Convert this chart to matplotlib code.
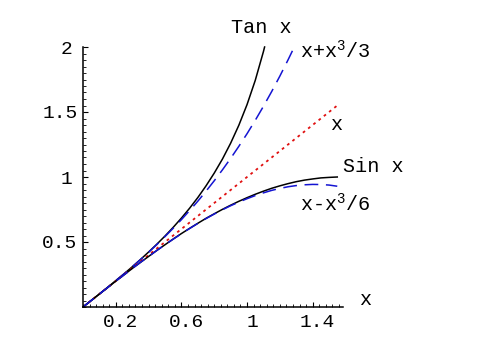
import matplotlib
matplotlib.use("Agg")
import matplotlib.pyplot as plt
import matplotlib.transforms as mtransforms
from matplotlib.ticker import MultipleLocator

# ---- data ----
xs = [0.0, 0.05, 0.1, 0.15, 0.2, 0.25, 0.3, 0.35, 0.4, 0.45, 0.5, 0.55, 0.6,
      0.65, 0.7, 0.75, 0.8, 0.85, 0.9, 0.95, 1.0, 1.05, 1.1, 1.15, 1.2, 1.25,
      1.3, 1.35, 1.4, 1.45, 1.5, 1.55]

tan_x = xs[:23] + [1.107]
tan_y = [0.0, 0.050, 0.100, 0.151, 0.203, 0.255, 0.309, 0.365, 0.423, 0.483,
         0.546, 0.613, 0.684, 0.760, 0.842, 0.932, 1.030, 1.138, 1.260, 1.398,
         1.557, 1.743, 1.965, 2.0]

tay3_x = xs[:26] + [1.288]
tay3_y = [0.0, 0.050, 0.100, 0.151, 0.203, 0.255, 0.309, 0.364, 0.421, 0.480,
          0.542, 0.606, 0.672, 0.742, 0.814, 0.891, 0.971, 1.055, 1.143, 1.236,
          1.333, 1.436, 1.544, 1.657, 1.776, 1.901, 2.0]

lin_x = [0.0, 1.55]
lin_y = [0.0, 1.55]

sin_y = [0.0, 0.050, 0.100, 0.149, 0.199, 0.247, 0.296, 0.343, 0.389, 0.435,
         0.479, 0.523, 0.565, 0.605, 0.644, 0.682, 0.717, 0.751, 0.783, 0.813,
         0.841, 0.867, 0.891, 0.913, 0.932, 0.949, 0.964, 0.976, 0.985, 0.993,
         0.997, 1.000]

sin3_y = [0.0, 0.050, 0.100, 0.149, 0.199, 0.247, 0.296, 0.343, 0.389, 0.435,
          0.479, 0.522, 0.564, 0.604, 0.643, 0.680, 0.715, 0.748, 0.779, 0.807,
          0.833, 0.857, 0.878, 0.897, 0.912, 0.925, 0.934, 0.940, 0.943, 0.942,
          0.938, 0.929]

x_ticks = [0.2, 0.6, 1.0, 1.4]
x_tick_labels = ["0.2", "0.6", "1", "1.4"]
y_ticks = [0.5, 1.0, 1.5, 2.0]
y_tick_labels = ["0.5", "1", "1.5", "2"]

FONT = "Liberation Mono"
plt.rcParams["font.family"] = [FONT, "DejaVu Sans"]
plt.rcParams["mathtext.default"] = "regular"
FS = 14.5
TFS = 14

fig = plt.figure(figsize=(4.8, 3.47), dpi=100)
ax = fig.add_axes([83 / 480, 40 / 347, 260 / 480, 260 / 347])
ax.set_xlim(0, 1.585)
ax.set_ylim(0, 2.0)

BLUE = "#1414d2"
ax.plot(tan_x, tan_y, color="black", lw=1.1, clip_on=False)
ax.plot(tay3_x, tay3_y, color=BLUE, lw=1.1, dashes=(9, 5), clip_on=False)
ax.plot(lin_x, lin_y, color="#e01010", lw=1.3, dashes=(1.5, 2.2))
ax.plot(xs, sin_y, color="black", lw=1.1)
ax.plot(xs, sin3_y, color=BLUE, lw=1.1, dashes=(9, 5))

for s in ["top", "right"]:
    ax.spines[s].set_visible(False)
for s in ["left", "bottom"]:
    ax.spines[s].set_linewidth(1.1)

ax.set_xticks(x_ticks)
ax.set_xticklabels(x_tick_labels, fontsize=TFS)
ax.set_yticks(y_ticks)
ax.set_yticklabels(y_tick_labels, fontsize=TFS)
ax.xaxis.set_minor_locator(MultipleLocator(0.04))
ax.yaxis.set_minor_locator(MultipleLocator(0.05))
ax.tick_params(which="major", direction="in", length=3.5, width=0.8)
ax.tick_params(which="minor", direction="in", length=2, width=0.6)
ax.tick_params(axis="x", pad=5)
ax.tick_params(axis="y", pad=4)

# small horizontal nudges of tick labels to match the reference placement
for t in ax.get_xticklabels():
    t.set_transform(t.get_transform() +
                    mtransforms.ScaledTranslation(5 / 100, 0, fig.dpi_scale_trans))
for t in ax.get_yticklabels():
    dx = -5 if t.get_text() in ("1", "2") else 0
    t.set_transform(t.get_transform() +
                    mtransforms.ScaledTranslation(dx / 100, 0, fig.dpi_scale_trans))

lab = dict(fontsize=FS, va="baseline")
ax.text(1.09, 2.108, "Tan x", ha="center", **lab)
ax.text(1.325, 1.915, "x+x$^3$/3", ha="left", **lab)
ax.text(1.543, 1.36, "x", ha="center", **lab)
ax.text(1.582, 1.042, "Sin x", ha="left", **lab)
ax.text(1.325, 0.734, "x-x$^3$/6", ha="left", **lab)
ax.text(1.72, 0.015, "x", ha="center", **lab)

fig.savefig("out.png", dpi=100)
